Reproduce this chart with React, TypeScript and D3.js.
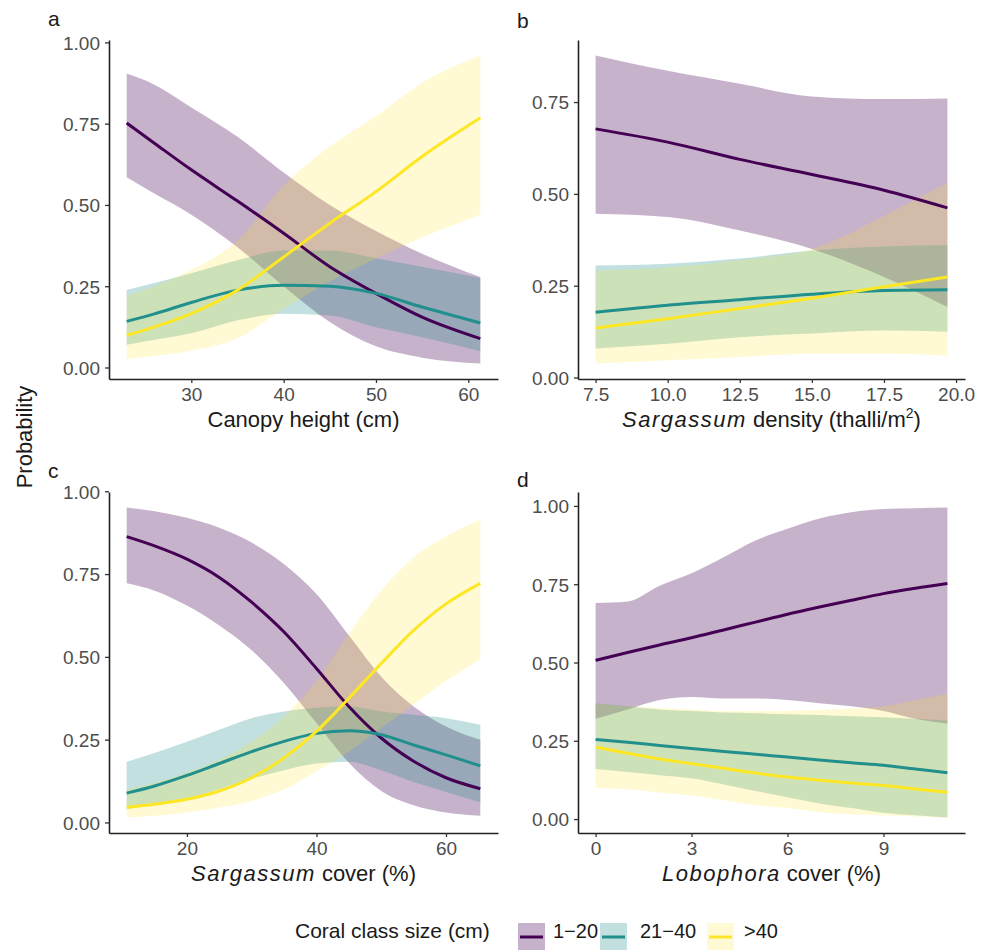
import * as d3 from "d3";
import { useEffect, useRef } from "react";

// coral size classes, viridis colours
const classes = ["1\u221220", "21\u221240", ">40"];
const colors = ["#440154", "#21908C", "#FDE725"];
const ribbonAlpha = [0.3, 0.28, 0.2];

// a: canopy height (cm)
const aX = [23, 26, 30, 35, 40, 45, 50, 55, 61.3];
const aFit = [
    [0.752, 0.69, 0.608, 0.512, 0.413, 0.31, 0.228, 0.155, 0.089],
    [0.142, 0.165, 0.2, 0.238, 0.253, 0.25, 0.228, 0.186, 0.137],
    [0.099, 0.125, 0.166, 0.238, 0.34, 0.444, 0.541, 0.649, 0.768],
];
const aLow = [
    [0.585, 0.535, 0.47, 0.37, 0.25, 0.14, 0.065, 0.03, 0.012],
    [0.07, 0.085, 0.105, 0.145, 0.165, 0.16, 0.124, 0.093, 0.05],
    [0.027, 0.035, 0.052, 0.09, 0.18, 0.265, 0.335, 0.4, 0.47],
];
const aHigh = [
    [0.904, 0.87, 0.8, 0.71, 0.6, 0.5, 0.42, 0.35, 0.278],
    [0.238, 0.26, 0.29, 0.33, 0.36, 0.36, 0.336, 0.31, 0.275],
    [0.22, 0.25, 0.3, 0.39, 0.56, 0.68, 0.773, 0.876, 0.96],
];

// b: Sargassum density (thalli/m2)
const bX = [7.5, 10, 12.5, 15, 17.5, 19.7];
const bFit = [
    [0.677, 0.641, 0.594, 0.553, 0.51, 0.462],
    [0.178, 0.197, 0.212, 0.227, 0.237, 0.239],
    [0.135, 0.16, 0.188, 0.216, 0.247, 0.274],
];
const bLow = [
    [0.446, 0.437, 0.4, 0.35, 0.274, 0.192],
    [0.079, 0.092, 0.11, 0.12, 0.128, 0.125],
    [0.038, 0.047, 0.056, 0.065, 0.065, 0.06],
];
const bHigh = [
    [0.877, 0.835, 0.8, 0.765, 0.758, 0.76],
    [0.305, 0.31, 0.324, 0.346, 0.357, 0.36],
    [0.29, 0.3, 0.32, 0.35, 0.44, 0.53],
];

// c: Sargassum cover (%)
const cX = [10.7, 15, 20, 25, 30, 35, 40, 45, 50, 55, 60, 65.3];
const cFit = [
    [0.863, 0.835, 0.795, 0.74, 0.665, 0.575, 0.465, 0.35, 0.255, 0.185, 0.135, 0.102],
    [0.0885, 0.11, 0.142, 0.178, 0.214, 0.245, 0.269, 0.277, 0.265, 0.234, 0.204, 0.171],
    [0.046, 0.055, 0.07, 0.095, 0.135, 0.195, 0.275, 0.375, 0.48, 0.58, 0.66, 0.722],
];
const cLow = [
    [0.722, 0.7, 0.655, 0.595, 0.52, 0.42, 0.3, 0.18, 0.095, 0.052, 0.03, 0.02],
    [0.04, 0.055, 0.071, 0.1, 0.132, 0.158, 0.178, 0.183, 0.158, 0.122, 0.092, 0.061],
    [0.015, 0.02, 0.03, 0.045, 0.065, 0.1, 0.155, 0.214, 0.285, 0.356, 0.427, 0.493],
];
const cHigh = [
    [0.951, 0.94, 0.92, 0.89, 0.845, 0.78, 0.69, 0.565, 0.44, 0.35, 0.29, 0.25],
    [0.183, 0.21, 0.244, 0.28, 0.315, 0.335, 0.346, 0.35, 0.335, 0.325, 0.315, 0.295],
    [0.1, 0.12, 0.15, 0.19, 0.244, 0.32, 0.427, 0.57, 0.7, 0.8, 0.864, 0.915],
];

// d: Lobophora cover (%)
const dX = [0, 1, 2, 3, 4, 5, 6, 7, 8, 9, 10, 11];
const dFit = [
    [0.507, 0.532, 0.556, 0.579, 0.604, 0.629, 0.654, 0.677, 0.699, 0.72, 0.737, 0.752],
    [0.254, 0.245, 0.235, 0.225, 0.216, 0.207, 0.198, 0.189, 0.18, 0.172, 0.16, 0.148],
    [0.23, 0.21, 0.192, 0.177, 0.162, 0.147, 0.134, 0.124, 0.115, 0.107, 0.096, 0.086],
];
const dLow = [
    [0.32, 0.35, 0.38, 0.39, 0.385, 0.385, 0.38, 0.37, 0.36, 0.345, 0.32, 0.305],
    [0.16, 0.15, 0.14, 0.13, 0.11, 0.09, 0.07, 0.05, 0.035, 0.02, 0.012, 0.005],
    [0.1, 0.095, 0.085, 0.075, 0.06, 0.045, 0.035, 0.022, 0.015, 0.012, 0.008, 0.005],
];
const dHigh = [
    [0.69, 0.695, 0.745, 0.785, 0.836, 0.89, 0.927, 0.96, 0.98, 0.99, 0.993, 0.995],
    [0.37, 0.36, 0.35, 0.345, 0.34, 0.338, 0.335, 0.332, 0.328, 0.325, 0.32, 0.315],
    [0.37, 0.36, 0.355, 0.35, 0.345, 0.345, 0.345, 0.348, 0.352, 0.36, 0.38, 0.4],
];

const probTicks = [0, 0.25, 0.5, 0.75, 1];
const probTicksB = [0, 0.25, 0.5, 0.75];
const aTicks = [30, 40, 50, 60];
const bTicks = [7.5, 10, 12.5, 15, 17.5, 20];
const cTicks = [20, 40, 60];
const dTicks = [0, 3, 6, 9];

const font = "'Liberation Sans', Arial, Helvetica, sans-serif";

export default function App() {
    const svgRef = useRef(null);

    useEffect(() => {
        const svg = d3.select(svgRef.current);
        svg.selectAll("*").remove();

        const panels = [
            { tag: "a", tagX: 48, tagY: 26, xs: aX, fit: aFit, low: aLow, high: aHigh, left: 109, right: 498, top: 40, bottom: 379, xTicks: aTicks, yTicks: probTicks, fmt: d3.format("d"), title: [["Canopy height (cm)", false]] },
            { tag: "b", tagX: 517, tagY: 28, xs: bX, fit: bFit, low: bLow, high: bHigh, left: 578, right: 965, top: 40, bottom: 379, xTicks: bTicks, yTicks: probTicksB, fmt: d3.format(".1f"), title: [["Sargassum", true], [" density (thalli/m", false], ["2", "sup"], [")", false]] },
            { tag: "c", tagX: 48, tagY: 478, xs: cX, fit: cFit, low: cLow, high: cHigh, left: 109, right: 498, top: 492, bottom: 833, xTicks: cTicks, yTicks: probTicks, fmt: d3.format("d"), title: [["Sargassum", true], [" cover (%)", false]] },
            { tag: "d", tagX: 517, tagY: 487, xs: dX, fit: dFit, low: dLow, high: dHigh, left: 578, right: 965, top: 492, bottom: 833, xTicks: dTicks, yTicks: probTicks, fmt: d3.format("d"), title: [["Lobophora", true], [" cover (%)", false]] },
        ];

        const expand = (ext) => {
            const r = ext[1] - ext[0];
            return [ext[0] - 0.05 * r, ext[1] + 0.05 * r];
        };

        panels.forEach(p => {
            const g = svg.append("g");
            const x = d3.scaleLinear().domain(expand(d3.extent(p.xs))).range([p.left, p.right]);
            const allY = p.low.flat().concat(p.high.flat());
            const y = d3.scaleLinear().domain(expand(d3.extent(allY))).range([p.bottom, p.top]);
            const idx = d3.range(p.xs.length);

            const area = (k) => d3.area()
                .x(i => x(p.xs[i]))
                .y0(i => y(p.low[k][i]))
                .y1(i => y(p.high[k][i]))
                .curve(d3.curveMonotoneX)(idx);
            const line = (k) => d3.line()
                .x(i => x(p.xs[i]))
                .y(i => y(p.fit[k][i]))
                .curve(d3.curveMonotoneX)(idx);

            g.selectAll("path.ribbon")
                .data([0, 1, 2])
                .join("path")
                .attr("class", "ribbon")
                .attr("d", k => area(k))
                .attr("fill", k => colors[k])
                .attr("fill-opacity", k => ribbonAlpha[k]);

            g.selectAll("path.fit")
                .data([0, 1, 2])
                .join("path")
                .attr("class", "fit")
                .attr("d", k => line(k))
                .attr("fill", "none")
                .attr("stroke", k => colors[k])
                .attr("stroke-width", 3);

            const yAxis = g.append("g")
                .attr("transform", `translate(${p.left},0)`)
                .call(d3.axisLeft(y).tickValues(p.yTicks).tickFormat(d3.format(".2f")).tickSize(4).tickSizeOuter(0).tickPadding(5));
            const xAxis = g.append("g")
                .attr("transform", `translate(0,${p.bottom})`)
                .call(d3.axisBottom(x).tickValues(p.xTicks).tickFormat(p.fmt).tickSize(4).tickSizeOuter(0).tickPadding(4));

            [yAxis, xAxis].forEach(ax => {
                ax.select(".domain").attr("stroke", "#222").attr("stroke-width", 1.6);
                ax.selectAll(".tick line").attr("stroke", "#333").attr("stroke-width", 1.3);
                ax.selectAll(".tick text")
                    .attr("fill", "#4D4D4D")
                    .attr("font-size", 19)
                    .attr("font-family", font);
            });
            xAxis.selectAll(".tick text").attr("dy", "0.72em");
            yAxis.selectAll(".tick text").attr("dy", "0.36em");

            const title = g.append("text")
                .attr("x", (p.left + p.right) / 2)
                .attr("y", p.bottom + 48)
                .attr("text-anchor", "middle")
                .attr("font-size", 22)
                .attr("font-family", font)
                .attr("fill", "#1a1a1a");
            p.title.forEach(([s, kind]) => {
                const t = title.append("tspan").text(s);
                if (kind === true) t.attr("font-style", "italic").attr("letter-spacing", 1.5);
                if (kind === "sup") t.attr("font-size", 14).attr("dy", -9);
                else if (s === ")") t.attr("dy", 9);
            });

            g.append("text")
                .attr("x", p.tagX)
                .attr("y", p.tagY)
                .attr("font-size", 21)
                .attr("font-family", font)
                .attr("fill", "#1a1a1a")
                .text(p.tag);
        });

        svg.append("text")
            .attr("transform", "translate(32,437) rotate(-90)")
            .attr("text-anchor", "middle")
            .attr("font-size", 22)
            .attr("font-family", font)
            .attr("fill", "#1a1a1a")
            .text("Probability");

        // legend
        const legend = svg.append("g");
        legend.append("text")
            .attr("x", 295)
            .attr("y", 938)
            .attr("font-size", 21)
            .attr("font-family", font)
            .attr("fill", "#1a1a1a")
            .text("Coral class size (cm)");
        const keyX = [518, 600, 707];
        const labelX = [553, 640, 744];
        classes.forEach((c, k) => {
            legend.append("rect")
                .attr("x", keyX[k]).attr("y", 923)
                .attr("width", 27).attr("height", 28)
                .attr("fill", colors[k]).attr("fill-opacity", ribbonAlpha[k]);
            legend.append("line")
                .attr("x1", keyX[k] + 2).attr("x2", keyX[k] + 25)
                .attr("y1", 937).attr("y2", 937)
                .attr("stroke", colors[k]).attr("stroke-width", 3);
            legend.append("text")
                .attr("x", labelX[k])
                .attr("y", 938)
                .attr("font-size", 20)
                .attr("font-family", font)
                .attr("fill", "#1a1a1a")
                .text(c);
        });
    }, []);

    return (
        <svg ref={svgRef} width={987} height={950}
            style={{ position: "absolute", left: 0, top: 0, background: "#fff" }} />
    );
}
